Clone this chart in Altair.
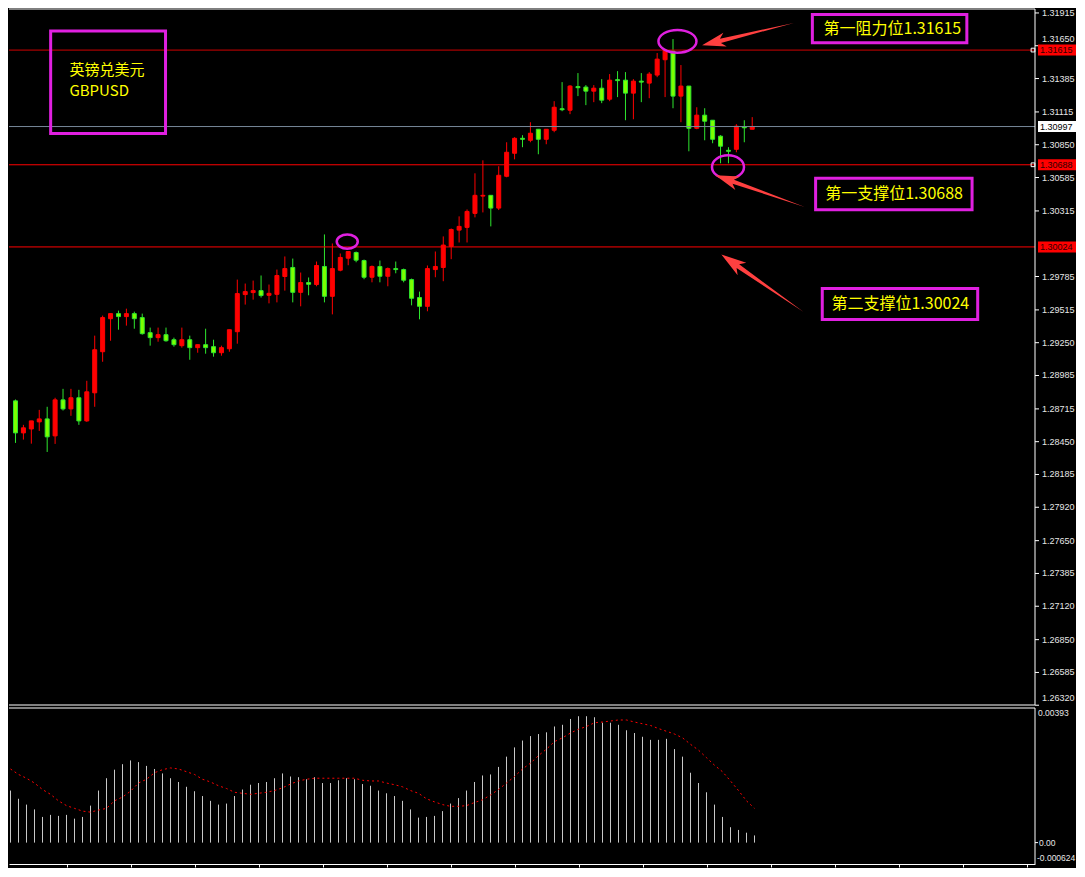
import altair as alt
import pandas as pd

# ---------------- data ----------------
opens = [1.28851, 1.28780, 1.28521, 1.28553, 1.28610, 1.28634, 1.28497, 1.28788, 1.28715, 1.28805,
         1.28618, 1.28845, 1.29177, 1.29444, 1.29485, 1.29461, 1.29485, 1.29453, 1.29331, 1.29291,
         1.29315, 1.29274, 1.29226, 1.29274, 1.29210, 1.29234, 1.29218, 1.29169, 1.29201, 1.29339,
         1.29639, 1.29655, 1.29671, 1.29633, 1.29641, 1.29785, 1.29858, 1.29657, 1.29736, 1.29720,
         1.29866, 1.29625, 1.29836, 1.29933, 1.29979, 1.29914, 1.29779, 1.29866, 1.29787, 1.29849,
         1.29841, 1.29760, 1.29615, 1.29544, 1.29841, 1.29858, 1.30028, 1.30160, 1.30182, 1.30295,
         1.30435, 1.30441, 1.30338, 1.30595, 1.30781, 1.30902, 1.30886, 1.30975, 1.30894, 1.30967,
         1.31141, 1.31129, 1.31320, 1.31316, 1.31283, 1.31307, 1.31218, 1.31376, 1.31372, 1.31267,
         1.31364, 1.31348, 1.31413, 1.31537, 1.31607, 1.31243, 1.31324, 1.30983, 1.31089, 1.31048,
         1.30919, 1.30805, 1.30813, 1.30996, 1.30975]
highs = [1.28958, 1.28791, 1.28586, 1.28618, 1.28707, 1.28732, 1.28805, 1.28877, 1.28877, 1.28869,
         1.28942, 1.29307, 1.29469, 1.29485, 1.29509, 1.29525, 1.29501, 1.29485, 1.29372, 1.29372,
         1.29372, 1.29291, 1.29372, 1.29307, 1.29234, 1.29363, 1.29274, 1.29226, 1.29355, 1.29760,
         1.29728, 1.29752, 1.29793, 1.29720, 1.29841, 1.29947, 1.29930, 1.29817, 1.29777, 1.29906,
         1.30125, 1.30052, 1.29971, 1.29987, 1.29987, 1.29922, 1.29874, 1.29914, 1.29858, 1.29906,
         1.29849, 1.29768, 1.29663, 1.29874, 1.29987, 1.30109, 1.30173, 1.30271, 1.30327, 1.30619,
         1.30724, 1.30441, 1.30676, 1.30870, 1.30911, 1.30927, 1.31032, 1.30975, 1.30975, 1.31202,
         1.31356, 1.31332, 1.31429, 1.31332, 1.31332, 1.31380, 1.31421, 1.31445, 1.31437, 1.31380,
         1.31429, 1.31437, 1.31591, 1.31615, 1.31704, 1.31494, 1.31324, 1.31153, 1.31145, 1.31048,
         1.30927, 1.30830, 1.31016, 1.31048, 1.31073]
lows = [1.28726, 1.28440, 1.28467, 1.28434, 1.28537, 1.28367, 1.28432, 1.28702, 1.28659, 1.28586,
        1.28610, 1.28732, 1.29096, 1.29266, 1.29355, 1.29388, 1.29363, 1.29315, 1.29226, 1.29258,
        1.29258, 1.29218, 1.29210, 1.29112, 1.29169, 1.29161, 1.29137, 1.29145, 1.29177, 1.29242,
        1.29558, 1.29598, 1.29615, 1.29568, 1.29576, 1.29671, 1.29576, 1.29544, 1.29633, 1.29706,
        1.29576, 1.29479, 1.29827, 1.29876, 1.29900, 1.29763, 1.29738, 1.29738, 1.29706, 1.29811,
        1.29738, 1.29552, 1.29439, 1.29504, 1.29779, 1.29747, 1.29925, 1.30060, 1.30060, 1.30263,
        1.30303, 1.30190, 1.30322, 1.30587, 1.30732, 1.30830, 1.30870, 1.30773, 1.30854, 1.30951,
        1.31121, 1.31097, 1.31243, 1.31170, 1.31194, 1.31186, 1.31202, 1.31235, 1.31048, 1.31056,
        1.31194, 1.31226, 1.31396, 1.31235, 1.31145, 1.31032, 1.30797, 1.30975, 1.30886, 1.30862,
        1.30700, 1.30700, 1.30789, 1.30870, 1.30975]
closes = [1.28772, 1.28521, 1.28562, 1.28618, 1.28634, 1.28489, 1.28788, 1.28715, 1.28805, 1.28618,
          1.28853, 1.29193, 1.29453, 1.29485, 1.29461, 1.29485, 1.29444, 1.29323, 1.29291, 1.29315,
          1.29266, 1.29234, 1.29274, 1.29210, 1.29234, 1.29210, 1.29169, 1.29210, 1.29355, 1.29647,
          1.29663, 1.29671, 1.29631, 1.29649, 1.29793, 1.29849, 1.29657, 1.29736, 1.29722, 1.29874,
          1.29625, 1.29849, 1.29939, 1.29987, 1.29917, 1.29779, 1.29866, 1.29787, 1.29849, 1.29841,
          1.29755, 1.29609, 1.29544, 1.29849, 1.29866, 1.30039, 1.30165, 1.30190, 1.30311, 1.30441,
          1.30441, 1.30338, 1.30603, 1.30789, 1.30902, 1.30894, 1.30943, 1.30894, 1.30975, 1.31153,
          1.31133, 1.31324, 1.31311, 1.31283, 1.31307, 1.31210, 1.31372, 1.31368, 1.31267, 1.31364,
          1.31356, 1.31421, 1.31542, 1.31615, 1.31243, 1.31324, 1.30983, 1.31089, 1.31040, 1.30894,
          1.30838, 1.30797, 1.31000, 1.30987, 1.30997]

macd_hist = [0.00188, 0.00152, 0.00128, 0.00111, 0.00097, 0.00075, 0.00081, 0.00078, 0.00081, 0.00070,
             0.00075, 0.00108, 0.00152, 0.00188, 0.00213, 0.00229, 0.00240, 0.00235, 0.00224, 0.00215,
             0.00202, 0.00188, 0.00177, 0.00163, 0.00150, 0.00136, 0.00122, 0.00111, 0.00114, 0.00136,
             0.00155, 0.00169, 0.00174, 0.00177, 0.00188, 0.00202, 0.00193, 0.00191, 0.00185, 0.00191,
             0.00174, 0.00174, 0.00182, 0.00188, 0.00185, 0.00171, 0.00166, 0.00152, 0.00144, 0.00136,
             0.00122, 0.00097, 0.00073, 0.00075, 0.00078, 0.00092, 0.00114, 0.00130, 0.00152, 0.00177,
             0.00196, 0.00199, 0.00221, 0.00251, 0.00278, 0.00298, 0.00311, 0.00317, 0.00322, 0.00339,
             0.00344, 0.00361, 0.00369, 0.00369, 0.00366, 0.00350, 0.00350, 0.00344, 0.00328, 0.00320,
             0.00309, 0.00300, 0.00300, 0.00303, 0.00273, 0.00251, 0.00204, 0.00174, 0.00147, 0.00111,
             0.00075, 0.00045, 0.00037, 0.00029, 0.00021]
macd_signal = [0.00223, 0.00215, 0.00199, 0.00188, 0.00174, 0.00155, 0.00141, 0.00122, 0.00108, 0.00100,
               0.00092, 0.00089, 0.00095, 0.00100, 0.00122, 0.00133, 0.00150, 0.00174, 0.00185, 0.00204,
               0.00213, 0.00218, 0.00215, 0.00207, 0.00199, 0.00185, 0.00177, 0.00166, 0.00158, 0.00147,
               0.00144, 0.00141, 0.00144, 0.00147, 0.00152, 0.00160, 0.00171, 0.00180, 0.00185, 0.00188,
               0.00188, 0.00188, 0.00188, 0.00188, 0.00188, 0.00182, 0.00180, 0.00180, 0.00174, 0.00169,
               0.00163, 0.00152, 0.00144, 0.00128, 0.00119, 0.00111, 0.00106, 0.00106, 0.00108, 0.00117,
               0.00125, 0.00139, 0.00155, 0.00174, 0.00193, 0.00215, 0.00232, 0.00254, 0.00273, 0.00295,
               0.00306, 0.00320, 0.00331, 0.00339, 0.00350, 0.00352, 0.00355, 0.00358, 0.00358, 0.00352,
               0.00347, 0.00342, 0.00333, 0.00325, 0.00317, 0.00306, 0.00287, 0.00270, 0.00248, 0.00226,
               0.00207, 0.00180, 0.00152, 0.00122, 0.00100]

price_ticks = [1.31915, 1.31650, 1.31385, 1.31115, 1.30850, 1.30585, 1.30315, 1.29785, 1.29515,
               1.29250, 1.28985, 1.28715, 1.28450, 1.28185, 1.27920, 1.27650, 1.27385, 1.27120,
               1.26850, 1.26585, 1.26320]
macd_ticks = [0.00393, 0.0, -0.000624]
macd_tick_labels = ["0.00393", "0.00", "-0.000624"]
time_ticks = list(range(8, 130, 8))

level_prices = [1.31615, 1.30997, 1.30688, 1.30024]
level_colors = ["#d00000", "#778899", "#ff0000", "#ff0000"]
tag_fill = ["#ff0000", "#ffffff", "#ff0000", "#ff0000"]
tag_text_color = ["#300000", "#000000", "#300000", "#300000"]
marker_prices = [1.31615, 1.30688]

# annotation boxes (candle-index units, price units)
box_x1 = [5.44, 101.59, 102.0, 102.84]
box_x2 = [19.94, 121.09, 121.75, 122.46]
box_y1 = [1.31770, 1.31903, 1.30580, 1.29688]
box_y2 = [1.30940, 1.31674, 1.30324, 1.29438]

label_texts = ["第一阻力位1.31615", "第一支撑位1.30688", "第二支撑位1.30024"]
label_x = [111.69, 111.9, 112.69]
label_y = [1.31783, 1.30452, 1.29563]

pair_texts = ["英镑兑美元", "GBPUSD"]
pair_x = [7.81, 7.81]
pair_y = [1.31457, 1.31285]

ellipse_x = [84.56, 42.88, 90.94]
ellipse_y = [1.31686, 1.30067, 1.30670]
ellipse_w = [38, 21, 32]
ellipse_ratio = [0.6, 0.67, 0.73]

arrow_x = [93.46, 94.99, 95.30]
arrow_y = [1.31744, 1.30475, 1.29730]
arrow_angle = [166.3, 199.5, 214.9]
arrow_len = [94.4, 94.8, 100.3]

# ---------------- layout / style ----------------
W = 1026
H_MAIN = 696
H_SUB = 156
X_DOMAIN = [0.8125, 0.8125 + W / 8]
P_TOP = 1.31947
P_DOMAIN = [P_TOP - H_MAIN / 12373, P_TOP]
M_DOMAIN = [-0.000624, 0.00393]
MAGENTA = "#e020e0"
YELLOW = "#ffff00"
AXIS_TXT = "#e6e6e6"
CJK = "Noto Sans CJK SC"
AX_FONT = "Liberation Sans"

n = len(opens)
df = pd.DataFrame({"i": list(range(n)), "open": opens, "high": highs, "low": lows, "close": closes})
df["dir"] = ["up" if c >= o else "down" for o, c in zip(opens, closes)]

xs = alt.Scale(domain=X_DOMAIN, nice=False, zero=False)
ys = alt.Scale(domain=P_DOMAIN, nice=False, zero=False)


def X(field):
    return alt.X(field, scale=xs, axis=None)


def Y(field):
    return alt.Y(field, scale=ys, axis=None)


body_fill = alt.Scale(domain=["up", "down"], range=["#ff0000", "#7cff00"])
line_col = alt.Scale(domain=["up", "down"], range=["#ff0000", "#2ee62e"])

# candles (the first one sits left of the visible area)
base = alt.Chart(df).transform_filter("datum.i >= 1")
wicks = base.mark_rule(strokeWidth=1).encode(
    x=X("i:Q"), y=Y("low:Q"), y2="high:Q",
    color=alt.Color("dir:N", scale=line_col, legend=None),
)
bodies = base.mark_bar(size=4, strokeWidth=1).encode(
    x=X("i:Q"), y=Y("open:Q"), y2="close:Q",
    fill=alt.Fill("dir:N", scale=body_fill, legend=None),
    stroke=alt.Stroke("dir:N", scale=line_col, legend=None),
)

# price axis: line, ticks and labels (labels next to a price tag or at the bottom sit just above it)
frame = pd.DataFrame({"k": [0]})
axis_line = alt.Chart(frame).mark_rule(color="#ffffff", strokeWidth=1).encode(
    x=alt.value(W), y=alt.value(0), y2=alt.value(H_MAIN))
tk = pd.DataFrame({"p": price_ticks, "t": [f"{v:.5f}" for v in price_ticks]})
tk["raise"] = [any(abs(p - lp) < 0.0006 for lp in level_prices) or p == min(price_ticks)
               for p in price_ticks]
tick_marks = alt.Chart(tk).mark_rule(color="#ffffff", strokeWidth=1).encode(
    x=alt.value(W), x2=alt.value(W + 4), y=Y("p:Q"))
tick_text = alt.Chart(tk).transform_filter("!datum.raise").mark_text(
    align="left", baseline="middle", font=AX_FONT, fontSize=9, color=AXIS_TXT).encode(
    x=alt.value(W + 7), y=Y("p:Q"), text="t:N")
tick_text_up = alt.Chart(tk).transform_filter("datum.raise").mark_text(
    align="left", baseline="bottom", dy=-2, font=AX_FONT, fontSize=9, color=AXIS_TXT).encode(
    x=alt.value(W + 7), y=Y("p:Q"), text="t:N")

lv = pd.DataFrame({"p": level_prices, "c": level_colors, "f": tag_fill, "tc": tag_text_color,
                   "t": [f"{v:.5f}" for v in level_prices]})
levels = alt.Chart(lv).mark_rule(strokeWidth=1).encode(
    y=Y("p:Q"), color=alt.Color("c:N", scale=None))
tags = alt.Chart(lv).mark_rect(yOffset=-5.5, y2Offset=5.5).encode(
    x=alt.value(W + 3), x2=alt.value(W + 41),
    y=Y("p:Q"), y2="p:Q",
    fill=alt.Fill("f:N", scale=None))
tag_txt = alt.Chart(lv).mark_text(align="left", baseline="middle", font=AX_FONT,
                                   fontSize=9).encode(
    x=alt.value(W + 5), y=Y("p:Q"), text="t:N",
    color=alt.Color("tc:N", scale=None))
markers = alt.Chart(pd.DataFrame({"p": marker_prices})).mark_point(
    shape="square", filled=False, size=14, strokeWidth=1, color="#ffffff", opacity=1).encode(
    x=alt.value(W - 2), y=Y("p:Q"))

top_rule = alt.Chart(frame).mark_rule(color="#ffffff", strokeWidth=1).encode(
    x=alt.value(0), x2=alt.value(W), y=alt.value(0))
bot_rule = alt.Chart(frame).mark_rule(color="#ffffff", strokeWidth=1).encode(
    x=alt.value(0), x2=alt.value(W), y=alt.value(H_MAIN))

boxes = alt.Chart(pd.DataFrame({"x1": box_x1, "x2": box_x2, "y1": box_y1, "y2": box_y2})).mark_rect(
    fillOpacity=0, stroke=MAGENTA, strokeWidth=3).encode(
    x=X("x1:Q"), x2="x2:Q", y=Y("y1:Q"), y2="y2:Q")

labels = alt.Chart(pd.DataFrame({"x": label_x, "y": label_y, "t": label_texts})).mark_text(
    align="center", baseline="middle", font=CJK, fontSize=16, color=YELLOW).encode(
    x=X("x:Q"), y=Y("y:Q"), text="t:N")
pair = alt.Chart(pd.DataFrame({"x": pair_x, "y": pair_y, "t": pair_texts})).mark_text(
    align="left", baseline="middle", font=CJK, fontSize=15, color=YELLOW).encode(
    x=X("x:Q"), y=Y("y:Q"), text="t:N")


def ellipse_path(r):
    k = 0.5523
    return (f"M-1,0 C-1,{-k*r:.4f} {-k:.4f},{-r:.4f} 0,{-r:.4f} "
            f"C{k:.4f},{-r:.4f} 1,{-k*r:.4f} 1,0 "
            f"C1,{k*r:.4f} {k:.4f},{r:.4f} 0,{r:.4f} "
            f"C{-k:.4f},{r:.4f} -1,{k*r:.4f} -1,0 Z")


ell = pd.DataFrame({"x": ellipse_x, "y": ellipse_y,
                    "sz": [w * w for w in ellipse_w],
                    "shape": [ellipse_path(r) for r in ellipse_ratio]})
ellipses = alt.Chart(ell).mark_point(filled=False, strokeWidth=2.5, color=MAGENTA, opacity=1).encode(
    x=X("x:Q"), y=Y("y:Q"),
    shape=alt.Shape("shape:N", scale=None), size=alt.Size("sz:Q", scale=None))

ARROW = "M-1,0 L0.6,-0.045 L0.5,-0.15 L1,0 L0.5,0.15 L0.6,0.045 Z"
arr = pd.DataFrame({"x": arrow_x, "y": arrow_y, "a": arrow_angle,
                    "sz": [l * l for l in arrow_len]})
arrows = alt.Chart(arr).mark_point(shape=ARROW, filled=True, color="#ff4040", opacity=1,
                                   strokeWidth=0).encode(
    x=X("x:Q"), y=Y("y:Q"),
    angle=alt.Angle("a:Q", scale=None), size=alt.Size("sz:Q", scale=None))

main = alt.layer(wicks, bodies, levels, markers, axis_line, tick_marks, tick_text, tick_text_up,
                 tags, tag_txt, top_rule, bot_rule, boxes, labels, pair, ellipses, arrows
                 ).properties(width=W, height=H_MAIN)

# ---------------- indicator panel ----------------
mdf = pd.DataFrame({"i": list(range(n)), "hist": macd_hist, "sig": macd_signal})
xs2 = alt.Scale(domain=X_DOMAIN, nice=False, zero=False)
ms = alt.Scale(domain=M_DOMAIN, nice=False, zero=False)
xaxis_b = alt.Axis(orient="bottom", values=time_ticks, labels=False, grid=False,
                   title=None, domainColor="#ffffff", tickColor="#ffffff", tickSize=3)

mbase = alt.Chart(mdf).transform_filter("datum.i >= 1")
hist = mbase.mark_rule(color="#c8c8c8", strokeWidth=1).encode(
    x=alt.X("i:Q", scale=xs2, axis=xaxis_b),
    y=alt.Y("hist:Q", scale=ms, axis=None),
    y2=alt.datum(0))
sig = mbase.mark_line(color="#ff0000", strokeWidth=1, strokeDash=[2, 3]).encode(
    x=alt.X("i:Q", scale=xs2, axis=xaxis_b), y=alt.Y("sig:Q", scale=ms, axis=None))
sub_top = alt.Chart(frame).mark_rule(color="#ffffff", strokeWidth=1).encode(
    x=alt.value(0), x2=alt.value(W), y=alt.value(0))
sub_axis = alt.Chart(frame).mark_rule(color="#ffffff", strokeWidth=1).encode(
    x=alt.value(W), y=alt.value(0), y2=alt.value(H_SUB))

mt = pd.DataFrame({"v": macd_ticks, "t": macd_tick_labels,
                   "pos": ["top", "mid", "bottom"]})
zero_tick = alt.Chart(mt).transform_filter("datum.pos == 'mid'").mark_rule(
    color="#ffffff", strokeWidth=1).encode(
    x=alt.value(W), x2=alt.value(W + 3), y=alt.Y("v:Q", scale=ms, axis=None))
m_lab_top = alt.Chart(mt).transform_filter("datum.pos == 'top'").mark_text(
    align="left", baseline="top", dy=1, font=AX_FONT, fontSize=8.5, color=AXIS_TXT).encode(
    x=alt.value(W + 3), y=alt.Y("v:Q", scale=ms, axis=None), text="t:N")
m_lab_mid = alt.Chart(mt).transform_filter("datum.pos == 'mid'").mark_text(
    align="left", baseline="middle", font=AX_FONT, fontSize=8.5, color=AXIS_TXT).encode(
    x=alt.value(W + 4), y=alt.Y("v:Q", scale=ms, axis=None), text="t:N")
m_lab_bot = alt.Chart(mt).transform_filter("datum.pos == 'bottom'").mark_text(
    align="left", baseline="bottom", dy=-1, font=AX_FONT, fontSize=8.5, color=AXIS_TXT).encode(
    x=alt.value(W + 2), y=alt.Y("v:Q", scale=ms, axis=None), text="t:N")

sub = alt.layer(hist, sig, sub_top, sub_axis, zero_tick, m_lab_top, m_lab_mid, m_lab_bot
                ).properties(width=W, height=H_SUB)

chart = alt.vconcat(main, sub, spacing=3, bounds="flush").properties(
    background="#000000", padding=0
).configure_view(strokeWidth=0).configure_axis(labelOverlap=False)

chart.save("out.html", embed_options={"renderer": "svg", "actions": False})
